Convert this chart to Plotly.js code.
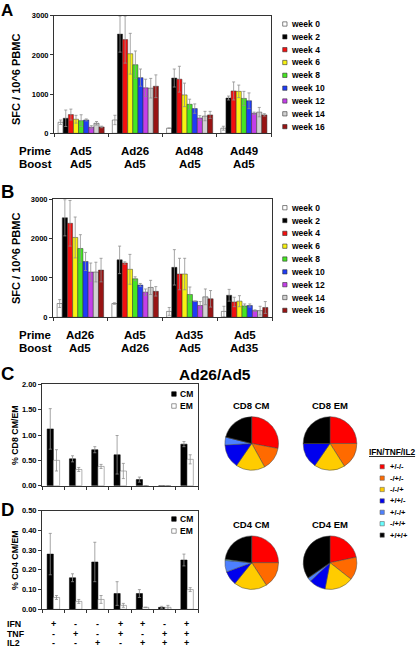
<!DOCTYPE html>
<html><head><meta charset="utf-8">
<script src="https://cdn.plot.ly/plotly-3.0.1.min.js"></script>
<style>html,body{margin:0;padding:0;background:#fff}#chart{width:416px;height:649px}</style>
</head><body><div id="chart"></div>
<script>
// ---------- DATA ----------
const weeks = ['week 0','week 2','week 4','week 6','week 8','week 10','week 12','week 14','week 16'];

// Panel A (prime/boost groups)
const primeA = ['Ad5','Ad26','Ad48','Ad49'];
const boostA = ['Ad5','Ad5','Ad5','Ad5'];
// values per group, in week order
const A_g1 = [282, 384, 477, 359, 323, 341, 154, 256, 162];
const A_g2 = [340, 2530, 2390, 2030, 1750, 1420, 1160, 1150, 1200];
const A_g3 = [130, 1410, 1380, 980, 740, 630, 390, 440, 470];
const A_g4 = [130, 900, 1080, 1070, 890, 830, 510, 540, 470];
const A_e1 = [58, 210, 140, 100, 150, 25, 40, 45, 20];
const A_e2 = [120, 460, 600, 520, 350, 220, 220, 250, 290];
const A_e3 = [0, 230, 330, 300, 130, 120, 60, 120, 90];
const A_e4 = [50, 50, 230, 160, 180, 200, 30, 120, 30];

// Panel B
const primeB = ['Ad26','Ad5','Ad35','Ad5'];
const boostB = ['Ad5','Ad26','Ad5','Ad35'];
const B_g1 = [350, 2530, 2390, 2030, 1750, 1420, 1150, 1150, 1200];
const B_g2 = [350, 1460, 1380, 1220, 980, 820, 640, 760, 660];
const B_g3 = [150, 1270, 1100, 1100, 580, 410, 300, 520, 470];
const B_g4 = [150, 560, 390, 410, 290, 300, 170, 170, 250];
const B_e1 = [100, 460, 580, 520, 350, 230, 230, 250, 300];
const B_e2 = [20, 350, 30, 380, 50, 40, 80, 180, 120];
const B_e3 = [100, 450, 400, 400, 190, 0, 100, 200, 210];
const B_e4 = [130, 150, 120, 140, 50, 40, 20, 110, 150];

// Panels C & D (cytokine combinations)
const ifnRow = ['+','-','-','+','+','-','+'];
const tnfRow = ['-','+','-','+','-','+','+'];
const il2Row = ['-','-','+','-','+','+','+'];
const cd8CM = [1.12, 0.53, 0.71, 0.61, 0.12, 0, 0.82];
const cd8CMerr = [0.40, 0.06, 0.06, 0.38, 0.05, 0, 0.05];
const cd8EM = [0.50, 0.32, 0.38, 0.29, 0, 0, 0.52];
const cd8EMerr = [0.21, 0.04, 0.04, 0.15, 0, 0, 0.09];
const cd4CM = [0.28, 0.16, 0.24, 0.08, 0.08, 0.01, 0.25];
const cd4CMerr = [0.105, 0.02, 0.10, 0.06, 0.02, 0.005, 0.03];
const cd4EM = [0.06, 0.04, 0.05, 0.02, 0.01, 0.01, 0.10];
const cd4EMerr = [0.01, 0.01, 0.02, 0.01, 0.0, 0.01, 0.01];

// Pies
const pieLabels = ['+/-/-','-/+/-','-/-/+','+/+/-','+/-/+','-/+/+','+/+/+'];
const pieCD8CM = [28, 14, 17.6, 14.5, 4.8, 0, 21.1];
const pieCD8EM = [25, 16, 18.6, 15.4, 0, 0, 25];
const pieCD4CM = [25, 15.8, 20, 8.6, 7, 0.6, 23];
const pieCD4EM = [21.7, 13.9, 17.4, 10, 2.2, 0.2, 34.6];

// ---------- STYLE ----------
const weekColors = ['#ffffff','#000000','#f21010','#f7f213','#45e622','#1f3cf5','#c43fe8','#d2d2d2','#981414'];
const pieColors = ['#ff0000','#ff6a00','#ffcc00','#0000ee','#4d80ff','#66ffff','#000000'];
const FF = 'Arial, "Liberation Sans", sans-serif';
const W = 416, H = 649;
const px = v => v / W, py = v => 1 - v / H;

const traces = [];
const errStyle = arr => ({type:'data', array:arr, visible:true, color:'#8f8f8f', thickness:0.8, width:1.5});

function addWeekBars(groups, errs, xa, ya) {
  weeks.forEach((w, i) => {
    traces.push({
      type:'bar', name:w, x:[0,1,2,3], y:groups.map(g => g[i]),
      error_y: errStyle(errs.map(e => e[i])),
      marker:{color:weekColors[i], line:{color:'#333', width:0.5}},
      xaxis:xa, yaxis:ya, showlegend:false, hoverinfo:'skip'
    });
  });
}
addWeekBars([A_g1,A_g2,A_g3,A_g4], [A_e1,A_e2,A_e3,A_e4], 'x', 'y');
addWeekBars([B_g1,B_g2,B_g3,B_g4], [B_e1,B_e2,B_e3,B_e4], 'x2', 'y2');

const cx = [0,1,2,3,4,5,6];
function addCMEM(cm, cme, em, eme, xa, ya) {
  traces.push({type:'bar', name:'CM', x:cx, y:cm, width:0.28, offset:-0.27,
    error_y:errStyle(cme), marker:{color:'#000', line:{color:'#000', width:0.5}},
    xaxis:xa, yaxis:ya, showlegend:false, hoverinfo:'skip'});
  traces.push({type:'bar', name:'EM', x:cx, y:em, width:0.28, offset:0.01,
    error_y:errStyle(eme), marker:{color:'#fff', line:{color:'#666', width:0.5}},
    xaxis:xa, yaxis:ya, showlegend:false, hoverinfo:'skip'});
}
addCMEM(cd8CM, cd8CMerr, cd8EM, cd8EMerr, 'x3', 'y3');
addCMEM(cd4CM, cd4CMerr, cd4EM, cd4EMerr, 'x4', 'y4');

function addPie(vals, cxp, cyp, r) {
  traces.push({type:'pie', values:vals, labels:pieLabels, sort:false, direction:'clockwise', rotation:0,
    marker:{colors:pieColors, line:{color:'#444', width:0.5}}, textinfo:'none', hoverinfo:'skip',
    showlegend:false, domain:{x:[px(cxp - r), px(cxp + r)], y:[py(cyp + r), py(cyp - r)]}});
}
addPie(pieCD8CM, 251.7, 443.5, 26.8);
addPie(pieCD8EM, 330, 443.5, 26.8);
addPie(pieCD4CM, 251.7, 562.7, 26.8);
addPie(pieCD4EM, 330, 562.7, 26.8);

// ---------- AXES ----------
const tickFont = {family:FF, size:7.5, color:'#000', weight:'bold'};
function xAx(l, r, n) {
  const tv = []; for (let k = -0.5; k <= n - 0.5 + 1e-9; k += 1) tv.push(k);
  return {domain:[px(l), px(r)], range:[-0.5, n - 0.5], showline:true, mirror:true, linecolor:'#333', linewidth:1,
    tickvals:tv, ticks:'outside', ticklen:3, tickcolor:'#333', showticklabels:false, showgrid:false, zeroline:false, fixedrange:true};
}
function yAx(t, b, max, dtick, fmt, anchor) {
  return {domain:[py(b), py(t)], range:[0, max], dtick:dtick, tickformat:fmt, showline:true, mirror:true, linecolor:'#333',
    linewidth:1, ticks:'outside', ticklen:3, tickcolor:'#333', tickfont:tickFont, showgrid:false, zeroline:false, anchor:anchor, fixedrange:true};
}

const layout = {
  width:W, height:H, margin:{l:0, r:0, t:0, b:0}, paper_bgcolor:'#fff', plot_bgcolor:'#fff',
  barmode:'group', bargap:0.15, bargroupgap:0, showlegend:false,
  font:{family:FF, color:'#000'},
  xaxis: Object.assign(xAx(54, 271, 4), {anchor:'y'}),
  yaxis: yAx(15.7, 133.3, 3000, 1000, 'd', 'x'),
  xaxis2: Object.assign(xAx(53, 272, 4), {anchor:'y2'}),
  yaxis2: yAx(199.3, 317.3, 3000, 1000, 'd', 'x2'),
  xaxis3: Object.assign(xAx(42, 198, 7), {anchor:'y3'}),
  yaxis3: yAx(384.3, 485.7, 2, 0.5, '.2f', 'x3'),
  xaxis4: Object.assign(xAx(42, 198, 7), {anchor:'y4'}),
  yaxis4: yAx(510.7, 609.3, 0.5, 0.1, '.2f', 'x4'),
  annotations:[], shapes:[]
};

const ann = layout.annotations, shp = layout.shapes;
function txt(x, y, text, size, opts) {
  ann.push(Object.assign({xref:'paper', yref:'paper', x:px(x), y:py(y), text:text, showarrow:false,
    font:{family:FF, size:size, color:'#000', weight:'bold'}, xanchor:'center', yanchor:'middle'}, opts || {}));
}
function sq(x, y, s, color, line) {
  shp.push({type:'rect', xref:'paper', yref:'paper', x0:px(x), x1:px(x + s), y0:py(y + s / 2), y1:py(y - s / 2),
    fillcolor:color, line:{color:line || '#222', width:0.6}});
}

// Panel letters
txt(7, 10, 'A', 17); txt(7, 191.5, 'B', 18.5); txt(7, 373.5, 'C', 18.5); txt(7, 510, 'D', 18.5);

// Y titles
txt(16, 80, 'SFC / 10^6 PBMC', 11, {textangle:-90});
txt(16, 259, 'SFC / 10^6 PBMC', 11, {textangle:-90});
txt(15, 435, '% CD8 CM/EM', 8.8, {textangle:-90});
txt(15, 560, '% CD4 CM/EM', 8.8, {textangle:-90});

// Prime/Boost rows
function catRows(prime, boost, xa, y1, y2) {
  txt(35, y1, 'Prime', 11.5); txt(35, y2, 'Boost', 11.5);
  prime.forEach((p, i) => ann.push({xref:xa, yref:'paper', x:i, y:py(y1), text:p, showarrow:false,
    font:{family:FF, size:11.5, color:'#000', weight:'bold'}, xanchor:'center', yanchor:'middle'}));
  boost.forEach((b, i) => ann.push({xref:xa, yref:'paper', x:i, y:py(y2), text:b, showarrow:false,
    font:{family:FF, size:11.5, color:'#000', weight:'bold'}, xanchor:'center', yanchor:'middle'}));
}
catRows(primeA, boostA, 'x', 151, 164);
catRows(primeB, boostB, 'x2', 335, 348);

// Week legends
function weekLegend(y0) {
  weeks.forEach((w, i) => {
    const y = y0 + i * 12.83;
    sq(282.7, y, 4.3, weekColors[i], '#333');
    txt(288.5, y, w, 8.5, {xanchor:'left'});
  });
}
weekLegend(24); weekLegend(207.7);

// CM/EM legends
function cmLegend(y0) {
  sq(171.7, y0, 4.5, '#000', '#000'); txt(177.7, y0, 'CM', 8.5, {xanchor:'left'});
  sq(171.7, y0 + 12, 4.5, '#fff', '#555'); txt(177.7, y0 + 12, 'EM', 8.5, {xanchor:'left'});
}
cmLegend(394); cmLegend(519);

// Cytokine rows under D
const rowDefs = [['IFN', ifnRow, 623.5], ['TNF', tnfRow, 633.5], ['IL2', il2Row, 643]];
rowDefs.forEach(([lab, arr, y]) => {
  txt(5, y, lab, 8.8, {xanchor:'left'});
  arr.forEach((s, i) => ann.push({xref:'x4', yref:'paper', x:i, y:py(y), text:s, showarrow:false,
    font:{family:FF, size:9, color:'#000', weight:'bold'}, xanchor:'center', yanchor:'middle'}));
});

// Title and pie titles
txt(215, 374, 'Ad26/Ad5', 15.5);
txt(251.7, 405, 'CD8 CM', 9.5); txt(330, 405, 'CD8 EM', 9.5);
txt(251.7, 524, 'CD4 CM', 9.5); txt(330, 524, 'CD4 EM', 9.5);

// Pie legend
txt(366.5, 451.7, '<u>IFN/TNF/IL2</u>', 8.3, {xanchor:'left'});
pieLabels.forEach((l, i) => {
  const y = 466.7 + i * 11.4;
  sq(380, y, 4.3, pieColors[i], '#666');
  txt(388.3, y, l, 7.5, {xanchor:'left'});
});

Plotly.newPlot('chart', traces, layout, {staticPlot:true, displayModeBar:false});
</script>
</body></html>
